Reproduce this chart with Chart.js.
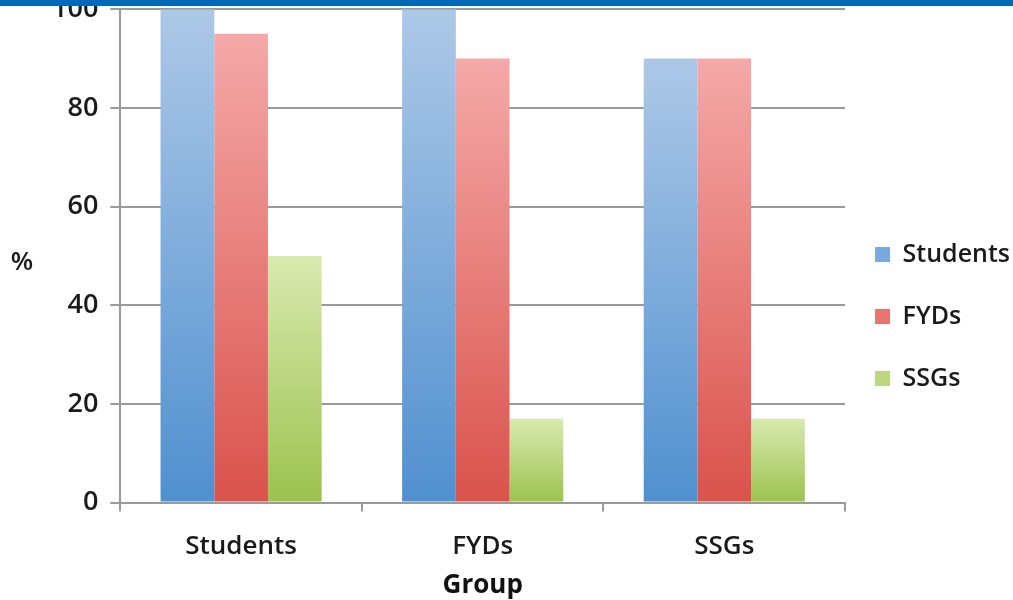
<!DOCTYPE html>
<html>
<head>
<meta charset="utf-8">
<script src="https://cdn.jsdelivr.net/npm/chart.js@4/dist/chart.umd.min.js"></script>
<style>
    html, body { margin: 0; padding: 0; background: #fff; }
    #wrap { position: relative; width: 1013px; height: 600px; overflow: hidden; }
    #band { position: absolute; left: 0; top: 0; width: 1013px; height: 6px; background: #0068b4; z-index: 2; }
    #holder { position: absolute; left: 0; top: -19px; width: 1013px; height: 619px; }
</style>
</head>
<body>
<div id="wrap">
    <div id="band"></div>
    <div id="holder"><canvas id="groupChart"></canvas></div>
</div>
<script>
const groups = ["Students", "FYDs", "SSGs"]
const studentsValues = [100, 100, 90]
const fydsValues = [95, 90, 90]
const ssgsValues = [50, 17, 17]
const yTicks = [0, 20, 40, 60, 80, 100]

const fontFamily = "'Open Sans', 'DejaVu Sans', sans-serif"

// light at the top of each bar, darker at its base
function barGradient(light, dark) {
    return function (ctx) {
        const chart = ctx.chart
        const area = chart.chartArea
        if (!area || ctx.type !== "data") return dark
        const y = chart.scales.y
        const top = y.getPixelForValue(ctx.raw)
        const bottom = y.getPixelForValue(0)
        const g = chart.ctx.createLinearGradient(0, top, 0, bottom)
        g.addColorStop(0, light)
        g.addColorStop(1, dark)
        return g
    }
}

const percentLabel = {
    id: "percentLabel",
    afterDraw(chart) {
        const c = chart.ctx
        const area = chart.chartArea
        c.save()
        c.font = "600 26px " + fontFamily
        c.fillStyle = "#1a1a1a"
        c.textAlign = "center"
        c.textBaseline = "middle"
        c.fillText("%", 22, (area.top + area.bottom) / 2 + 7)
        c.restore()
    }
}

// pull the legend a bit closer to the plot and lower, like the original
const legendNudge = {
    id: "legendNudge",
    afterLayout(chart) {
        const lg = chart.legend
        if (!lg) return
        const dx = chart.chartArea.right - 7 - lg.left
        lg.left += dx
        lg.right += dx
        lg.top += 21
        lg.bottom += 21
    }
}

const groupChart = new Chart(
    document.getElementById("groupChart"),
    {
        type: "bar",
        data: {
            labels: groups,
            datasets: [
                {
                    label: "Students",
                    data: studentsValues,
                    backgroundColor: barGradient("#adc8e7", "#5090cf")
                },
                {
                    label: "FYDs",
                    data: fydsValues,
                    backgroundColor: barGradient("#f4a9a8", "#da524c")
                },
                {
                    label: "SSGs",
                    data: ssgsValues,
                    backgroundColor: barGradient("#d9e9b0", "#9cc24e")
                }
            ]
        },
        options: {
            responsive: true,
            maintainAspectRatio: false,
            animation: false,
            layout: {
                padding: { left: 40, right: -14, top: 10, bottom: 0 }
            },
            datasets: {
                bar: {
                    categoryPercentage: 0.667,
                    barPercentage: 1,
                    borderWidth: 0
                }
            },
            plugins: {
                legend: {
                    position: "right",
                    labels: {
                        boxWidth: 15,
                        boxHeight: 15,
                        padding: 37,
                        color: "#1a1a1a",
                        font: { family: fontFamily, size: 25, weight: "600" },
                        generateLabels(chart) {
                            const solid = ["#79a9dc", "#e87571", "#bcd77f"]
                            return chart.data.datasets.map((ds, i) => ({
                                text: ds.label,
                                fillStyle: solid[i],
                                strokeStyle: solid[i],
                                lineWidth: 0,
                                fontColor: "#1a1a1a",
                                datasetIndex: i
                            }))
                        }
                    }
                },
                tooltip: { enabled: false }
            },
            scales: {
                x: {
                    grid: {
                        offset: true,
                        drawOnChartArea: false,
                        drawTicks: true,
                        tickLength: 9,
                        color: "#9a9a9a",
                        lineWidth: 2
                    },
                    border: { color: "#9a9a9a", width: 2 },
                    ticks: {
                        color: "#1a1a1a",
                        padding: 19,
                        font: { family: fontFamily, size: 26, weight: "600" }
                    },
                    title: {
                        display: true,
                        text: "Group",
                        color: "#111",
                        padding: { top: -11, bottom: -1 },
                        font: { family: fontFamily, size: 26, weight: "bold" }
                    }
                },
                y: {
                    min: 0,
                    max: 100,
                    afterBuildTicks(axis) {
                        axis.ticks = yTicks.map(v => ({ value: v }))
                    },
                    grid: {
                        color: "#9a9a9a",
                        lineWidth: 2,
                        tickLength: 10
                    },
                    border: { color: "#9a9a9a", width: 2 },
                    ticks: {
                        color: "#1a1a1a",
                        padding: 12,
                        font: { family: fontFamily, size: 27, weight: "600" }
                    }
                }
            }
        },
        plugins: [percentLabel, legendNudge]
    }
)
</script>
</body>
</html>
